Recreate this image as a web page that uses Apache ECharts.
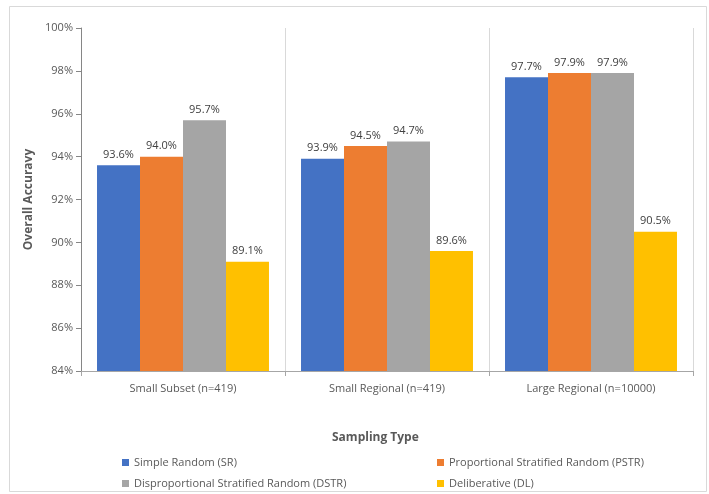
<!DOCTYPE html>
<html>
<head>
<meta charset="utf-8">
<script src="https://cdn.jsdelivr.net/npm/echarts@6/dist/echarts.min.js"></script>
<style>
  html, body { margin: 0; padding: 0; background: #fff; }
  #chart { width: 709px; height: 494px; }
</style>
</head>
<body>
<div id="chart"></div>
<script>
// categories on the x axis
const categories = ['Small Subset (n=419)', 'Small Regional (n=419)', 'Large Regional (n=10000)']
// one array per sampling type (overall accuracy, %)
const seriesNames = ['Simple Random (SR)', 'Proportional Stratified Random (PSTR)', 'Disproportional Stratified Random (DSTR)', 'Deliberative (DL)']
const srValues = [93.6, 93.9, 97.7]
const pstrValues = [94.0, 94.5, 97.9]
const dstrValues = [95.7, 94.7, 97.9]
const dlValues = [89.1, 89.6, 90.5]
const colorArr = ['#4472C4', '#ED7D31', '#A5A5A5', '#FFC000']

const font = 'Open Sans'
const chart = echarts.init(document.getElementById('chart'))

function barSeries(name, data, color) {
  return {
    name: name,
    type: 'bar',
    barGap: '0%',
    barCategoryGap: '15.7%',
    itemStyle: { color: color },
    label: {
      show: true,
      position: 'top',
      distance: 5,
      color: '#404040',
      fontFamily: font,
      fontSize: 11,
      formatter: p => p.value.toFixed(1) + '%'
    },
    data: data
  }
}

const options = {
  backgroundColor: '#fff',
  animation: false,
  textStyle: { fontFamily: font },
  grid: { left: 81, right: 16, top: 28, bottom: 123 },
  graphic: [
    {
      type: 'rect',
      shape: { x: 9.5, y: 6.5, width: 697, height: 485 },
      style: { fill: 'none', stroke: '#d9d9d9', lineWidth: 1 },
      silent: true
    },
    {
      type: 'text',
      left: 373 - 41, top: 432,
      style: { text: 'Sampling Type', font: 'bold 12px ' + font, fill: '#595959' }
    }
  ],
  legend: [
    {
      orient: 'vertical',
      left: 117, top: 452,
      itemWidth: 7, itemHeight: 7, itemGap: 10,
      icon: 'rect',
      textStyle: { color: '#595959', fontSize: 11, fontFamily: font },
      data: [seriesNames[0], seriesNames[2]]
    },
    {
      orient: 'vertical',
      left: 432, top: 452,
      itemWidth: 7, itemHeight: 7, itemGap: 10,
      icon: 'rect',
      textStyle: { color: '#595959', fontSize: 11, fontFamily: font },
      data: [seriesNames[1], seriesNames[3]]
    }
  ],
  xAxis: {
    type: 'category',
    data: categories,
    axisLine: { lineStyle: { color: '#a6a6a6' } },
    axisTick: { show: true, length: 5, lineStyle: { color: '#a6a6a6' } },
    axisLabel: { color: '#595959', fontSize: 11, margin: 12 },
    splitLine: { show: true, lineStyle: { color: '#d9d9d9' } }
  },
  yAxis: {
    type: 'value',
    min: 84,
    max: 100,
    interval: 2,
    name: 'Overall Accuravy',
    nameLocation: 'middle',
    nameGap: 44,
    nameTextStyle: { color: '#595959', fontSize: 12, fontWeight: 'bold' },
    axisLine: { show: true, lineStyle: { color: '#868686' } },
    axisTick: { show: true, length: 5, lineStyle: { color: '#868686' } },
    axisLabel: { color: '#595959', fontSize: 11, margin: 8, formatter: v => v + '%' },
    splitLine: { show: false }
  },
  series: [
    barSeries(seriesNames[0], srValues, colorArr[0]),
    barSeries(seriesNames[1], pstrValues, colorArr[1]),
    barSeries(seriesNames[2], dstrValues, colorArr[2]),
    barSeries(seriesNames[3], dlValues, colorArr[3])
  ]
}
chart.setOption(options)
</script>
</body>
</html>
